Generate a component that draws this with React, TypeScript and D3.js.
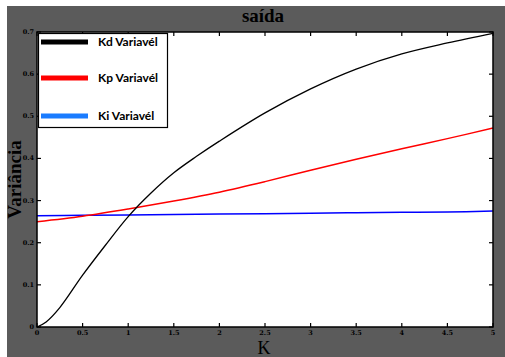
import React from "react";
import * as d3 from "d3";

const kBlack = [0, 0.1, 0.25, 0.5, 0.75, 1, 1.25, 1.5, 1.75, 2, 2.5, 3, 3.5, 4, 4.5, 5];
const kdValues = [0, 0.012, 0.046, 0.123, 0.194, 0.262, 0.318, 0.366, 0.405, 0.441, 0.508, 0.565, 0.612, 0.648, 0.674, 0.697];
const kLines = [0, 0.5, 1, 1.5, 2, 2.5, 3, 3.5, 4, 4.5, 5];
const kpValues = [0.25, 0.263, 0.28, 0.299, 0.32, 0.345, 0.372, 0.398, 0.423, 0.447, 0.472];
const kiValues = [0.264, 0.265, 0.266, 0.267, 0.268, 0.269, 0.27, 0.271, 0.272, 0.273, 0.275];
const xTicks = [0, 0.5, 1, 1.5, 2, 2.5, 3, 3.5, 4, 4.5, 5];
const xTickLabels = ["0", "0.5", "1", "1.5", "2", "2.5", "3", "3.5", "4", "4.5", "5"];
const yTicks = [0, 0.1, 0.2, 0.3, 0.4, 0.5, 0.6, 0.7];
const yTickLabels = ["0", "0.1", "0.2", "0.3", "0.4", "0.5", "0.6", "0.7"];
const legendLabels = ["Kd Variavél", "Kp Variavél", "Ki Variavél"];
const legendColors = ["#000000", "#ff0000", "#1a7cff"];

export default function App() {
  const W = 505, H = 357;
  const L = 37, R = 493, T = 32, B = 327;
  const x = d3.scaleLinear().domain([0, 5]).range([L, R]);
  const y = d3.scaleLinear().domain([0, 0.7]).range([B, T]);
  const mk = (ks: number[], vs: number[]) =>
    d3.line<number>().x((_, i) => x(ks[i])).y((v) => y(v)).curve(d3.curveCatmullRom.alpha(0.5))(vs) || "";
  const tick = 4;
  return (
    <svg width={W} height={H} style={{ position: "absolute", left: 0, top: 0 }}>
      <rect x={0} y={0} width={W} height={H} fill="#ffffff" />
      <rect x={7} y={6} width={W - 7} height={H - 6} fill="#5b5b5b" />
      <rect x={L} y={T} width={R - L} height={B - T} fill="#ffffff" />
      <text x={263} y={22} textAnchor="middle" fontFamily="Liberation Serif" fontWeight="bold" fontSize={19} fill="#000">saída</text>
      <text x={264} y={354} textAnchor="middle" fontFamily="Liberation Serif" fontSize={18} fill="#000">K</text>
      <text transform={`translate(21,${(T + B) / 2}) rotate(-90)`} textAnchor="middle" fontFamily="Liberation Serif" fontWeight="bold" fontSize={19} fill="#000">Variância</text>
      {xTicks.map((t, i) => (
        <g key={"x" + i}>
          <line x1={x(t)} x2={x(t)} y1={B} y2={B - tick} stroke="#000" strokeWidth={1.2} />
          <line x1={x(t)} x2={x(t)} y1={T} y2={T + tick} stroke="#000" strokeWidth={1.2} />
          <text x={x(t)} y={B + 8} textAnchor="middle" fontFamily="DejaVu Serif" fontWeight="bold" fontSize={6.5} fill="#000">{xTickLabels[i]}</text>
        </g>
      ))}
      {yTicks.map((t, i) => (
        <g key={"y" + i}>
          <line x1={L} x2={L + tick} y1={y(t)} y2={y(t)} stroke="#000" strokeWidth={1.2} />
          <line x1={R} x2={R - tick} y1={y(t)} y2={y(t)} stroke="#000" strokeWidth={1.2} />
          <text x={L - 3} y={y(t) + 2} textAnchor="end" fontFamily="DejaVu Serif" fontWeight="bold" fontSize={6.5} fill="#000">{yTickLabels[i]}</text>
        </g>
      ))}
      <path d={mk(kLines, kiValues)} fill="none" stroke="#0000ff" strokeWidth={1.5} />
      <path d={mk(kLines, kpValues)} fill="none" stroke="#ff0000" strokeWidth={1.5} />
      <path d={mk(kBlack, kdValues)} fill="none" stroke="#000000" strokeWidth={1.3} />
      <rect x={L} y={T} width={R - L} height={B - T} fill="none" stroke="#000" strokeWidth={1.5} />
      <rect x={38.5} y={33.5} width={129} height={94} fill="#ffffff" stroke="#000" strokeWidth={1.2} />
      {legendLabels.map((lab, i) => {
        const ly = [42, 78, 116][i];
        return (
          <g key={"l" + i}>
            <line x1={41} x2={88} y1={ly} y2={ly} stroke={legendColors[i]} strokeWidth={5} />
            <text x={98} y={ly + 4} fontFamily="Lato" fontWeight="bold" fontSize={12} fill="#000">{lab}</text>
          </g>
        );
      })}
    </svg>
  );
}
